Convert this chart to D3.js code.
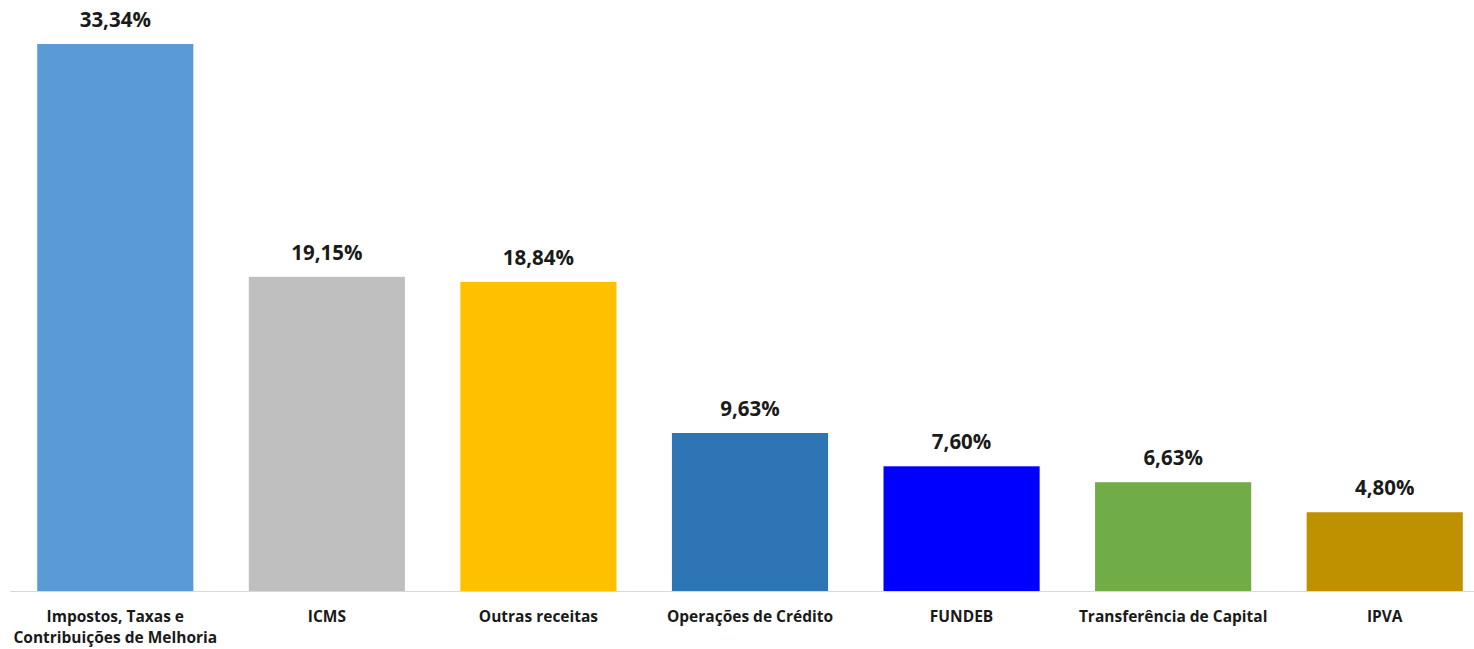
<!DOCTYPE html>
<html>
<head>
<meta charset="utf-8">
<script src="https://cdn.jsdelivr.net/npm/d3@7"></script>
<style>
  body { margin: 0; background: #fff; }
  svg text { font-family: "Open Sans", "Noto Sans", sans-serif; font-weight: bold; fill: #1a1a1a; }
</style>
</head>
<body>
<svg width="1474" height="649"></svg>
<script>
// categories and values (percent of revenue)
var categories = ["Impostos, Taxas e|Contribuições de Melhoria", "ICMS", "Outras receitas",
                  "Operações de Crédito", "FUNDEB", "Transferência de Capital", "IPVA"];
var values = [33.34, 19.15, 18.84, 9.63, 7.60, 6.63, 4.80];
var colors = ["#5B9BD5", "#BFBFBF", "#FFC000", "#2E75B6", "#0000FF", "#70AD47", "#BF9000"];

var svg = d3.select("svg"),
    baseline = 591;

var x = d3.scaleBand()
    .domain(categories)
    .range([9.5, 1490.5])
    .paddingInner(0.262)
    .paddingOuter(0.131);

var y = d3.scaleLinear()
    .domain([0, 33.34])
    .range([baseline, 44]);

var fmt = function(v) { return v.toFixed(2).replace(".", ",") + "%"; };

svg.selectAll(".bar")
   .data(values)
   .enter().append("rect")
   .attr("class", "bar")
   .attr("x", function(d, i) { return x(categories[i]); })
   .attr("y", function(d) { return y(d); })
   .attr("width", x.bandwidth())
   .attr("height", function(d) { return baseline - y(d); })
   .attr("fill", function(d, i) { return colors[i]; });

svg.selectAll(".val")
   .data(values)
   .enter().append("text")
   .attr("class", "val")
   .attr("x", function(d, i) { return x(categories[i]) + x.bandwidth() / 2; })
   .attr("y", function(d) { return y(d) - 17; })
   .attr("text-anchor", "middle")
   .attr("font-size", "20.5px")
   .text(fmt);

// axis line
var axis = svg.append("g")
   .attr("transform", "translate(0," + baseline + ")")
   .call(d3.axisBottom(x).tickSize(0).tickFormat(""));
axis.select(".domain").attr("stroke", "#d9d9d9").attr("stroke-width", 1.2)
    .attr("d", "M10,0.5H1474");

svg.selectAll(".cat")
   .data(categories)
   .enter().append("text")
   .attr("class", "cat")
   .attr("text-anchor", "middle")
   .attr("font-size", "15.5px")
   .attr("x", function(d) { return x(d) + x.bandwidth() / 2; })
   .attr("y", 622)
   .each(function(d) {
       var lines = d.split("|");
       var t = d3.select(this);
       lines.forEach(function(l, k) {
           t.append("tspan")
            .attr("x", x(d) + x.bandwidth() / 2)
            .attr("dy", k === 0 ? 0 : 21)
            .text(l);
       });
   });
</script>
</body>
</html>
